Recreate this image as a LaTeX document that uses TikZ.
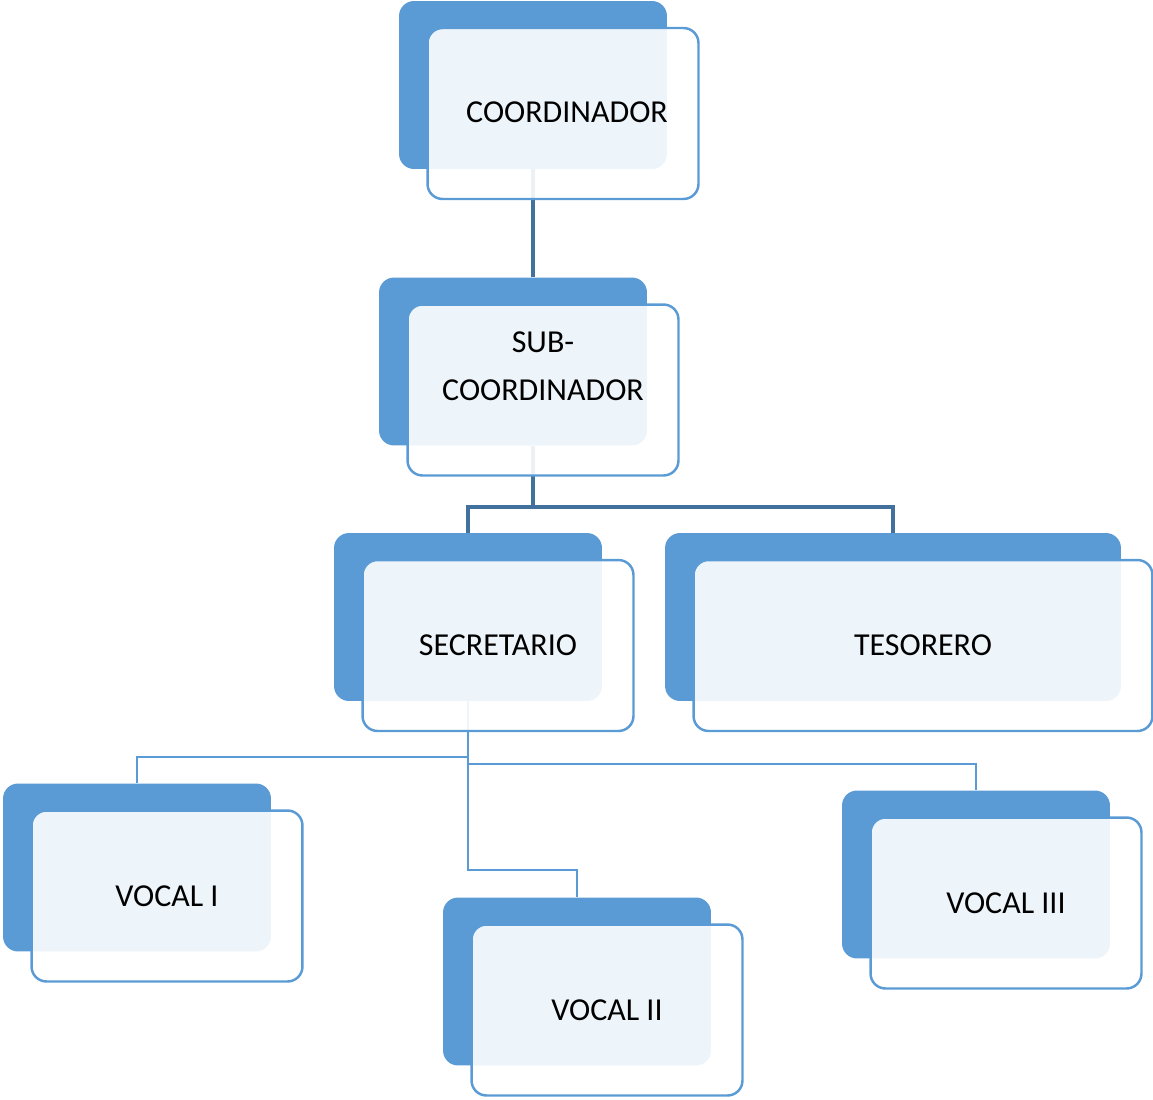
\documentclass[tikz,border=0pt]{standalone}
\usepackage{fontspec}
\setmainfont{Carlito}
\usepackage{xcolor}
\definecolor{boxblue}{RGB}{91, 155, 213}
\definecolor{linkdark}{RGB}{65, 113, 156}
\usetikzlibrary{calc}
\tikzset{
	backbox/.style={draw=none, fill=boxblue, rounded corners=0.3cm, minimum width=5.36cm, minimum height=3.36cm},
	frontbox/.style={draw=boxblue, line width=1.4pt, fill=white, fill opacity=0.9, text opacity=1, rounded corners=0.3cm, minimum width=5.42cm, minimum height=3.42cm, align=center, font=\fontsize{18.2}{27}\selectfont},
	boxtext/.style={align=center, font=\fontsize{18.2}{27.5}\selectfont},
	link/.style={line width=1.8pt, linkdark},
	sublink/.style={line width=1.4pt, boxblue}
}

\begin{document}
\begin{tikzpicture}[x=0.02cm, y=-0.02cm]
	\useasboundingbox (0,0) rectangle (1153,1099);
	% back boxes
	\node[backbox] (coord) at (533,85) {};
	\node[backbox] (sub) at (513,361.5) {};
	\node[backbox] (sec) at (468,617) {};
	\node[backbox, minimum width=9.12cm] (tes) at (893,617) {};
	\node[backbox] (v1) at (137,867.5) {};
	\node[backbox] (v2) at (577,981.5) {};
	\node[backbox] (v3) at (976,874.5) {};
	% connectors
	\coordinate (j1) at (533,507);
	\coordinate (j2) at (468,757);
	\coordinate (j3) at (468,764);
	\coordinate (j4) at (468,870);
	\draw[link] (coord.south) -- (coord.south |- sub.north);
	\draw[link] (sub.south -| j1) -- (j1) -| (sec.north);
	\draw[link] (j1) -| (tes.north);
	\draw[sublink] (sec.south) -- (j4) -| (v2.north);
	\draw[sublink] (j2) -| (v1.north);
	\draw[sublink] (j3) -| (v3.north);
	% front boxes
	\node[frontbox] (coordf) at ($(coord)+(30,28.5)$) {};
	\node[boxtext] (coordt) at ($(coordf)+(4,-1)$) {COORDINADOR};
	\node[frontbox] (subf) at ($(sub)+(30,28.5)$) {};
	\node[boxtext] (subt) at ($(subf)+(0,-24)$) {SUB-\\COORDINADOR};
	\node[frontbox] (secf) at ($(sec)+(30,28.5)$) {SECRETARIO};
	\node[frontbox, minimum width=9.18cm] (tesf) at ($(tes)+(30,28.5)$) {TESORERO};
	\node[frontbox] (v1f) at ($(v1)+(30,28.5)$) {VOCAL I};
	\node[frontbox] (v2f) at ($(v2)+(30,28.5)$) {VOCAL II};
	\node[frontbox] (v3f) at ($(v3)+(30,28.5)$) {VOCAL III};
\end{tikzpicture}
\end{document}
